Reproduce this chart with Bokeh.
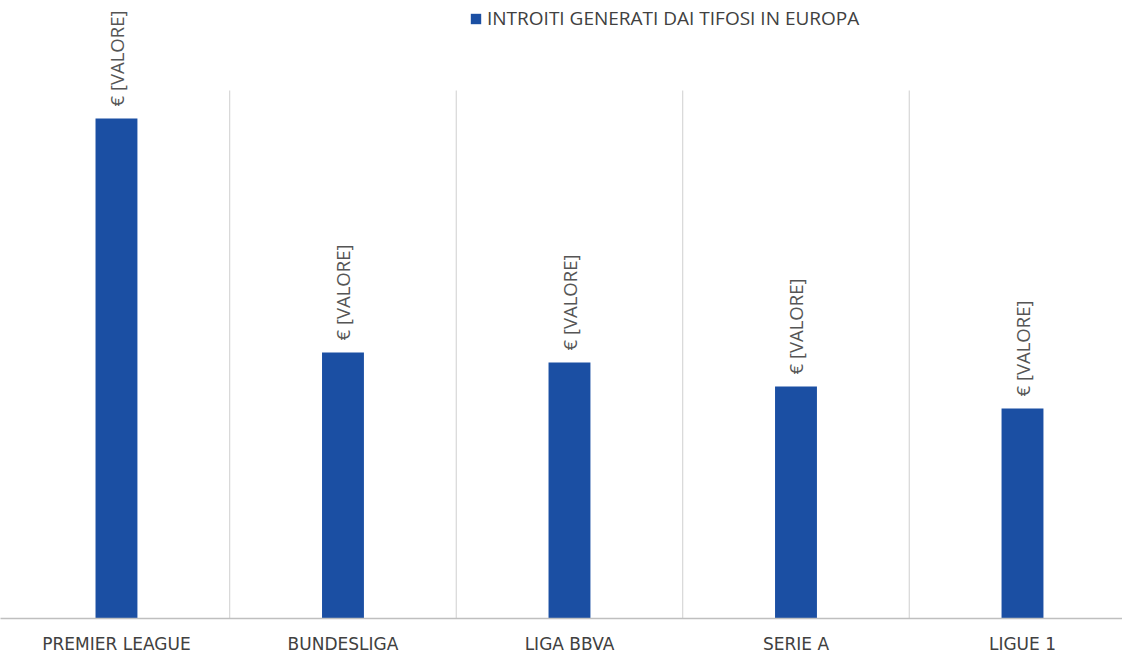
import math
from bokeh.plotting import figure
from bokeh.models import ColumnDataSource, Range1d, FixedTicker, Legend, LegendItem
from bokeh.core.properties import value
from bokeh.embed import file_html
from bokeh.resources import INLINE

categories = ["PREMIER LEAGUE", "BUNDESLIGA", "LIGA BBVA", "SERIE A", "LIGUE 1"]
values = [2500, 1330, 1280, 1160, 1050]
labels = ["€ [VALORE]"] * 5
series_name = "INTROITI GENERATI DAI TIFOSI IN EUROPA"

xs = [i + 0.5 for i in range(len(categories))]
src = ColumnDataSource(dict(x=xs, top=values, label=labels))

p = figure(width=1122, frame_width=1122, frame_height=618,
           x_range=Range1d(-0.012, 4.9415), y_range=Range1d(0, 3090),
           output_backend="svg", toolbar_location=None,
           y_axis_location=None, min_border_left=0, min_border_right=0,
           min_border_top=0, min_border_bottom=0, outline_line_color=None)
p.xgrid.visible = False
p.ygrid.visible = False

# category separators
seps = list(range(1, len(categories)))
p.segment(x0=seps, x1=seps, y0=[0] * len(seps), y1=[2640] * len(seps),
          line_color="#cfcfcf", line_width=1)

bars = p.vbar(x="x", top="top", width=0.185, source=src,
              fill_color="#1B4FA3", line_color=None)

p.text(x="x", y="top", text="label", source=src, angle=math.pi / 2,
       text_align="left", text_baseline="middle", y_offset=-12,
       text_font=value("Open Sans"), text_font_size="18.5px", text_color="#555555")

ax = p.xaxis[0]
ax.ticker = FixedTicker(ticks=xs)
ax.major_label_overrides = {x: c for x, c in zip(xs, categories)}
ax.major_tick_line_color = None
ax.minor_tick_line_color = None
ax.axis_line_color = "#bfbfbf"
ax.axis_line_width = 1.5
ax.major_label_standoff = 9
ax.major_label_text_font = "DejaVu Sans"
ax.major_label_text_font_size = "17px"
ax.major_label_text_color = "#404040"

legend = Legend(items=[LegendItem(label=series_name, renderers=[bars])],
                location=(469, 587), orientation="horizontal",
                glyph_width=13, glyph_height=13, label_standoff=5,
                padding=0, margin=0, spacing=0,
                border_line_color=None, background_fill_alpha=0,
                label_text_font="Open Sans", label_text_font_size="19px",
                label_text_color="#404040")
p.add_layout(legend)

open("out.html", "w").write(file_html(p, INLINE))
